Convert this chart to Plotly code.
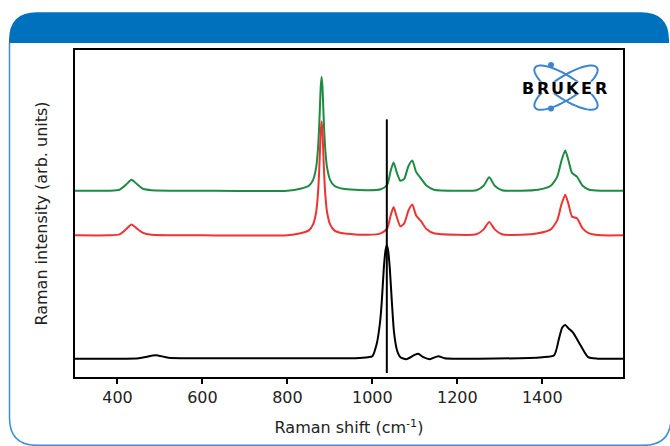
import numpy as np
import plotly.graph_objects as go

# ---------------- data ----------------
tick_vals = [400, 600, 800, 1000, 1200, 1400]
tick_text = ["400", "600", "800", "1000", "1200", "1400"]

green_x = [300, 380, 405, 420, 433, 445, 460, 480, 600, 800, 830.5, 850.5, 860.5, 867.5, 871.5,
           874.5, 876.5, 878.5, 880.5, 882.5, 884.5, 886.5, 889.5, 893.5, 900.5, 910.5, 930.5,
           990, 1020, 1035, 1043, 1050, 1057, 1066, 1075, 1085,
           1094, 1103, 1115, 1128, 1145, 1200, 1245, 1262, 1275, 1288, 1305, 1350, 1390, 1420, 1435,
           1445, 1454, 1462, 1470, 1482, 1495, 1510, 1540, 1590]
green_y = [188, 188, 189, 194, 199, 195, 190, 188.5, 188, 188, 190, 193, 199, 211, 227.5,
           250, 271.5, 293, 303, 293, 271.5, 250, 227.5, 211, 199, 193, 190,
           188.5, 189.5, 194, 208, 216.5, 207, 198, 200, 213,
           218.5, 207, 200, 193, 189, 188, 188.5, 193, 201.5, 193, 188.5, 188, 189, 193, 202,
           218, 228.5, 218, 206, 202, 193, 189, 188, 188]

red_x = green_x
red_y = [143, 143, 144, 149, 154, 150, 145.5, 143.5, 143, 143, 145, 148, 154, 166, 182.5,
         205, 226.5, 248, 258, 248, 226.5, 205, 182.5, 166, 154, 148, 145,
         143.5, 145, 150, 163, 171.5, 162, 152, 155, 168,
         174, 163, 157, 149, 145, 143.5, 144, 149, 156.5, 149, 144, 143.5, 145, 149, 158,
         174, 184, 174, 162, 160, 150, 145, 143, 143]

black_x = [300, 450, 490, 520, 700, 900, 960, 990, 1000, 1010, 1018, 1022, 1027, 1031, 1034, 1037,
           1041, 1046, 1051, 1058, 1066, 1080, 1098, 1108, 1120, 1135, 1155, 1170, 1250, 1400,
           1428, 1440, 1447, 1454, 1462, 1472, 1490, 1508, 1530, 1590]
black_y = [18.5, 19, 22, 19.5, 19, 19, 19, 20, 21, 33, 55, 75, 110, 128, 133, 128,
           110, 75, 45, 27, 20, 18, 22, 23.5, 20, 18, 21, 19, 18.5, 20,
           22, 40, 50, 52.5, 49, 45, 32, 20, 18.5, 18.5]

marker_x = [1034, 1034]
marker_y = [4, 260]

# ---------------- layout geometry (pixels) ----------------
W, H = 670, 446
PL, PR, PT, PB = 75, 623, 50, 380


def px(x):
    return (x - PL) / (PR - PL)


def py(y):
    return (PB - y) / (PB - PT)


def path(points):
    return " ".join(points)


fig = go.Figure()
fig.add_trace(go.Scatter(x=green_x, y=green_y, mode="lines",
                         line=dict(color="#1E8B43", width=2, shape="spline", smoothing=0.6),
                         showlegend=False, hoverinfo="skip"))
fig.add_trace(go.Scatter(x=red_x, y=red_y, mode="lines",
                         line=dict(color="#EE3333", width=2, shape="spline", smoothing=0.6),
                         showlegend=False, hoverinfo="skip"))
fig.add_trace(go.Scatter(x=black_x, y=black_y, mode="lines",
                         line=dict(color="black", width=2, shape="spline", smoothing=0.6),
                         showlegend=False, hoverinfo="skip"))
fig.add_trace(go.Scatter(x=marker_x, y=marker_y, mode="lines",
                         line=dict(color="black", width=2),
                         showlegend=False, hoverinfo="skip"))

shapes = []
# header band with rounded top corners
r = 28
L, R, T, B = 9, 669, 12, 43
hdr = path([f"M {px(L)},{py(B)}", f"L {px(L)},{py(T + r)}", f"Q {px(L)},{py(T)} {px(L + r)},{py(T)}",
            f"L {px(R - r)},{py(T)}", f"Q {px(R)},{py(T)} {px(R)},{py(T + r)}", f"L {px(R)},{py(B)}", "Z"])
shapes.append(dict(type="path", xref="paper", yref="paper", path=hdr,
                   fillcolor="#0071BC", line=dict(width=0), layer="above"))
# panel border (left, bottom, right)
BB = 449
RB = 671
brd = path([f"M {px(9.5)},{py(B)}", f"L {px(9.5)},{py(BB - r)}", f"Q {px(9.5)},{py(BB)} {px(9.5 + r)},{py(BB)}",
            f"L {px(RB - r)},{py(BB)}", f"Q {px(RB)},{py(BB)} {px(RB)},{py(BB - r)}", f"L {px(RB)},{py(B)}"])
shapes.append(dict(type="path", xref="paper", yref="paper", path=brd,
                   line=dict(color="#3B8FD8", width=1.5), layer="above"))

# logo orbits
cx, cy = 566, 88
t = np.linspace(0, 2 * np.pi, 60)
for ang in (33, -33):
    a, b = 37, 11.5
    th = np.deg2rad(ang)
    ex = cx + a * np.cos(t) * np.cos(th) - b * np.sin(t) * np.sin(th)
    ey = cy + a * np.cos(t) * np.sin(th) + b * np.sin(t) * np.cos(th)
    p = "M " + " L ".join(f"{px(x_)},{py(y_)}" for x_, y_ in zip(ex, ey)) + " Z"
    shapes.append(dict(type="path", xref="paper", yref="paper", path=p,
                       line=dict(color="#3C86CF", width=2), layer="above"))
for dx, dy in ((551, 65), (551, 109)):
    shapes.append(dict(type="circle", xref="paper", yref="paper",
                       x0=px(dx - 3), x1=px(dx + 3), y0=py(dy + 3), y1=py(dy - 3),
                       fillcolor="#3C86CF", line=dict(width=0), layer="above"))
# white strip behind the logo lettering
shapes.append(dict(type="rect", xref="paper", yref="paper",
                   x0=px(520), x1=px(611), y0=py(94), y1=py(82),
                   fillcolor="white", line=dict(width=0), layer="above"))

annotations = []
letters = "BRUKER"
pitch = 14.6
start = 521
for i, ch in enumerate(letters):
    annotations.append(dict(x=px(start + pitch / 2 + pitch * i), y=py(88.5), xref="paper", yref="paper",
                            text=f"<b>{ch}</b>", showarrow=False,
                            font=dict(family="DejaVu Sans", size=16, color="black"),
                            xanchor="center", yanchor="middle"))

fig.update_layout(
    width=W, height=H,
    margin=dict(l=PL, r=W - PR, t=PT, b=H - PB),
    paper_bgcolor="white", plot_bgcolor="white",
    font=dict(family="DejaVu Sans", size=16, color="#222222"),
    shapes=shapes, annotations=annotations,
    xaxis=dict(range=[300, 1590], tickvals=tick_vals, ticktext=tick_text,
               ticks="outside", ticklen=5, tickwidth=1.5, tickcolor="black",
               showline=True, linecolor="black", linewidth=1.8, mirror=True,
               showgrid=False, zeroline=False,
               tickfont=dict(size=16, color="#222222"),
               title=dict(text="Raman shift (cm<sup>-1</sup>)", standoff=16,
                          font=dict(size=16, color="#222222"))),
    yaxis=dict(range=[0, 330], showticklabels=False, ticks="",
               showline=True, linecolor="black", linewidth=1.8, mirror=True,
               showgrid=False, zeroline=False,
               title=dict(text="Raman intensity (arb. units)", standoff=22,
                          font=dict(size=16, color="#222222"))),
)

fig.write_html("out.html", config={"displayModeBar": False},
               post_script="document.body.style.margin='0';")
